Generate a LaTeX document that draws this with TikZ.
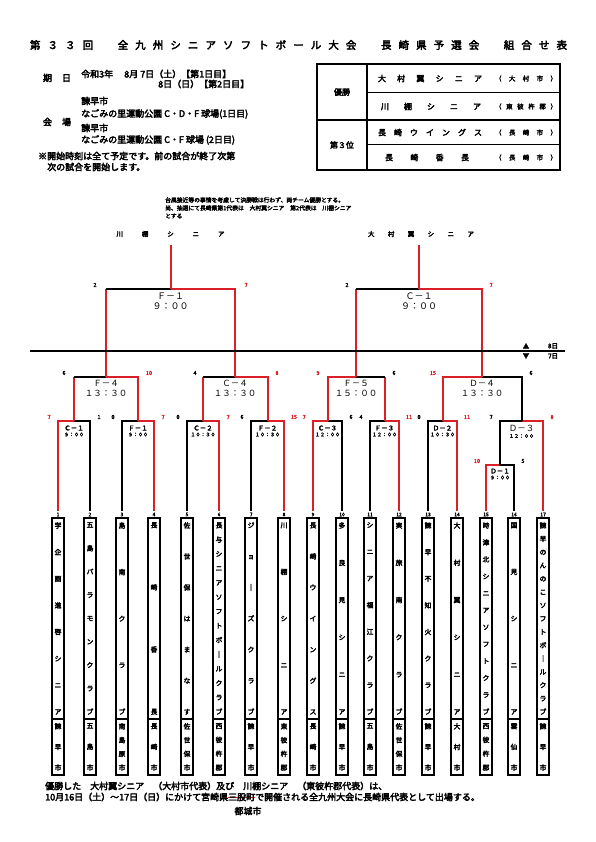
\documentclass[tikz,border=0pt]{standalone}
\usepackage{fontspec}
\setmainfont{Noto Sans CJK JP}[BoldFont={Noto Sans CJK JP}, BoldFeatures={FakeBold=3.5}]
\usetikzlibrary{calc}
\definecolor{winred}{RGB}{218,32,38}

% Zeichen gleichmaessig verteilen (waagrecht / senkrecht)
\makeatletter
\newcommand\spreadh[2]{\makebox[#1][s]{\spr@a#2\relax}}
\def\spr@a#1{#1\spr@b}
\def\spr@b#1{\ifx#1\relax\else\hfil#1\expandafter\spr@b\fi}
\newcommand\spreadv[2]{\vbox to #1{\spr@c#2\relax}}
\def\spr@c#1{\hbox to 0pt{\hss#1\hss}\spr@d}
\def\spr@d#1{\ifx#1\relax\else\vfil\hbox to 0pt{\hss#1\hss}\expandafter\spr@d\fi}
\makeatother

\newcommand\redstrike[1]{\sbox0{#1}\rlap{\color{winred}\rule[0.3em]{\wd0}{0.8pt}}{\color{winred}\usebox0}}

\tikzset{
  win/.style={draw=winred, line width=2pt},
  lose/.style={draw=black, line width=2pt},
  teambox/.style={draw=black, line width=1.4pt},
  tbl/.style={draw=black, line width=1.6pt},
  tblthin/.style={draw=black, line width=1pt},
  title/.style={font=\bfseries\fontsize{10.5}{12}\selectfont, inner sep=0pt},
  info/.style={font=\bfseries\fontsize{9}{10}\selectfont, inner sep=0pt},
  note/.style={font=\bfseries\fontsize{5.8}{7}\selectfont, inner sep=0pt, anchor=west},
  tblname/.style={font=\bfseries\fontsize{8}{9}\selectfont, inner sep=0pt},
  tblcity/.style={font=\bfseries\fontsize{6.5}{8}\selectfont, inner sep=0pt},
  toplbl/.style={font=\bfseries\fontsize{6.5}{8}\selectfont, inner sep=0pt},
  teamnum/.style={font=\bfseries\fontsize{5}{5}\selectfont, inner sep=0pt},
  teamtxt/.style={font=\bfseries\fontsize{6.8}{7.5}\selectfont, inner sep=0pt},
  score/.style={font=\bfseries\fontsize{5.5}{6}\selectfont, inner sep=0pt},
  wscore/.style={score, text=winred},
  lscore/.style={score, text=black},
  lblS/.style={font=\bfseries\fontsize{6.5}{7}\selectfont, inner sep=0pt},
  timeS/.style={font=\bfseries\fontsize{5}{6}\selectfont, inner sep=0pt},
  lblM/.style={font=\fontsize{8.5}{9}\selectfont, inner sep=0pt},
  lblL/.style={font=\fontsize{9}{10}\selectfont, inner sep=0pt},
  daylbl/.style={font=\bfseries\fontsize{6.5}{7}\selectfont, inner sep=0pt}
}

% Mannschaft: Nummer, x, Name, Ort
\newcommand\team[4]{%
  \draw[teambox] (#2-6,518) rectangle (#2+6,775);
  \draw[teambox] (#2-6,719) -- (#2+6,719);
  \node[teamnum] (n#1) at (#2,514.5) {#1};
  \node[teamtxt] (name#1) at (#2,618.5) {\spreadv{192pt}{#3}};
  \node[teamtxt] (city#1) at (#2,747) {\spreadv{47pt}{#4}};
  \coordinate (t#1) at (#2,511);
}

\begin{document}
\begin{tikzpicture}[x=1pt,y=-1pt]
\useasboundingbox (0,0) rectangle (595,842);

% Titel
\node[title] (title) at (298.5,45) {\spreadh{537pt}{第３３回　全九州シニアソフトボール大会　長崎県予選会　組合せ表}};

% Datum und Ort
\node[info] (kijitsu) at (57,78) {\spreadh{28pt}{期日}};
\node[info, anchor=west] (date1) at (81,74) {令和3年　 8月  7日（土）【第1日目】};
\node[info, anchor=west] (date2) at (158,84) {8日（日）【第2日目】};
\node[info] (kaijo) at (57,122) {\spreadh{28pt}{会場}};
\node[info, anchor=west] (site1) at (81,101) {諫早市};
\node[info, anchor=west] (site1b) at (81,114) {なごみの里運動公園 C・D・F 球場(1日目)};
\node[info, anchor=west] (site2) at (81,128) {諫早市};
\node[info, anchor=west] (site2b) at (81,140) {なごみの里運動公園 C・F 球場 (2日目)};
\node[info, anchor=west] (remark1) at (38,156) {※開始時刻は全て予定です。前の試合が終了次第};
\node[info, anchor=west] (remark2) at (47,167) {次の試合を開始します。};

% Ergebnistabelle
\draw[tbl] (317,64) rectangle (560,170);
\draw[tbl] (367,64) -- (367,170);
\draw[tbl] (317,120) -- (560,120);
\draw[tblthin] (367,93) -- (560,93);
\draw[tblthin] (367,145) -- (560,145);
\node[tblname] (yusho) at (342,92) {優勝};
\node[tblname] (third) at (342,145) {第３位};
\node[tblname] (champ1) at (430,78.5) {\spreadh{104pt}{大村翼シニア}};
\node[tblcity] (champ1c) at (526,78.5) {\spreadh{62pt}{（大村市）}};
\node[tblname] (champ2) at (431,106.5) {\spreadh{100pt}{川棚シニア}};
\node[tblcity] (champ2c) at (526,106.5) {\spreadh{62pt}{（東彼杵郡）}};
\node[tblname] (third1) at (430,132.5) {\spreadh{104pt}{長崎ウイングス}};
\node[tblcity] (third1c) at (526,132.5) {\spreadh{62pt}{（長崎市）}};
\node[tblname] (third2) at (427,157.5) {\spreadh{84pt}{長崎香長}};
\node[tblcity] (third2c) at (526,157.5) {\spreadh{62pt}{（長崎市）}};

% Hinweis
\node[note] (note1) at (165,200) {台風接近等の事情を考慮して決勝戦は行わず、両チーム優勝とする。};
\node[note] (note2) at (165,208) {尚、抽選にて長崎県第1代表は　大村翼シニア　第2代表は　川棚シニア};
\node[note] (note3) at (165,216) {とする};

% Sieger oben
\node[toplbl] (topnameL) at (170.5,234) {\spreadh{108pt}{川棚シニア}};
\node[toplbl] (topnameR) at (421,234) {\spreadh{106pt}{大村翼シニア}};

% Mannschaften
\team{1}{58}{学企画進啓シニア}{諫早市}
\team{2}{90}{五島パラモンクラブ}{五島市}
\team{3}{122}{島南クラブ}{南島原市}
\team{4}{154}{長崎香長}{長崎市}
\team{5}{187}{佐世保はまなす}{佐世保市}
\team{6}{219}{長与シニアソフトボ｜ルクラブ}{西彼杵郡}
\team{7}{251}{ジョ｜ズクラブ}{諫早市}
\team{8}{284}{川棚シニア}{東彼杵郡}
\team{9}{313}{長崎ウイングス}{長崎市}
\team{10}{342}{多良見シニア}{諫早市}
\team{11}{370}{シニア福江クラブ}{五島市}
\team{12}{399}{実旅南クラブ}{佐世保市}
\team{13}{428}{諫早不知火クラブ}{諫早市}
\team{14}{457}{大村翼シニア}{大村市}
\team{15}{486}{時津北シニアソフトクラブ}{西彼杵郡}
\team{16}{514}{国見シニア}{雲仙市}
\team{17}{543}{諫早のんのこソフトボ｜ルクラブ}{諫早市}

% Spielpunkte
\coordinate (c1a) at (74,421);
\coordinate (f1a) at (138,421);
\coordinate (c2) at (203,421);
\coordinate (f2) at (267.5,421);
\coordinate (c3) at (327.5,421);
\coordinate (f3) at (384.5,421);
\coordinate (d2) at (442.5,421);
\coordinate (d1) at (500,465);
\coordinate (d3) at (521.5,421);
\coordinate (f4) at (106,377);
\coordinate (c4) at (235,377);
\coordinate (f5) at (356,377);
\coordinate (d4) at (482,377);
\coordinate (f1b) at (170.5,289);
\coordinate (c1b) at (419,289);
\coordinate (topL) at (170.5,245);
\coordinate (topR) at (419,245);

% erste Runde (7日)
\draw[lose] (t2) |- (c1a);  \draw[win] (t1) |- (c1a);
\draw[lose] (t3) |- (f1a);  \draw[win] (t4) |- (f1a);
\draw[lose] (t5) |- (c2);   \draw[win] (t6) |- (c2);
\draw[lose] (t7) |- (f2);   \draw[win] (t8) |- (f2);
\draw[lose] (t10) |- (c3);  \draw[win] (t9) |- (c3);
\draw[lose] (t11) |- (f3);  \draw[win] (t12) |- (f3);
\draw[lose] (t13) |- (d2);  \draw[win] (t14) |- (d2);
\draw[lose] (t16) |- (d1);  \draw[win] (t15) |- (d1);
\draw[lose] (d1) |- (d3);   \draw[win] (t17) |- (d3);

% zweite Runde (7日)
\draw[win] (c1a) -- (c1a |- f4);  \draw[lose] (c1a |- f4) -- (f4);  \draw[win] (f1a) |- (f4);
\draw[win] (c2) -- (c2 |- c4);    \draw[lose] (c2 |- c4) -- (c4);    \draw[win] (f2) |- (c4);
\draw[win] (f3) -- (f3 |- f5);    \draw[lose] (f3 |- f5) -- (f5);    \draw[win] (c3) |- (f5);
\draw[lose] (d3) |- (d4);         \draw[win] (d2) |- (d4);

% Halbfinale (8日)
\draw[win] (f4) -- (f4 |- f1b);   \draw[lose] (f4 |- f1b) -- (f1b);  \draw[win] (c4) |- (f1b);
\draw[win] (f5) -- (f5 |- c1b);   \draw[lose] (f5 |- c1b) -- (c1b);  \draw[win] (d4) |- (c1b);
\draw[win] (f1b) -- (topL);
\draw[win] (c1b) -- (topR);

% Tagesgrenze
\draw[line width=1.4pt] (30,351) -- (565,351);
\node[daylbl] (up) at (526,346) {▲};
\node[daylbl] (down) at (526,356) {▼};
\node[daylbl] (day8) at (553,346) {8日};
\node[daylbl] (day7) at (553,356) {7日};

% Spielbezeichnungen
\node[lblS] (lc1a) at (74,428) {Ｃ－１};   \node[timeS] (tc1a) at (74,434.5) {９：００};
\node[lblS] (lf1a) at (138,428) {Ｆ－１};  \node[timeS] (tf1a) at (138,434.5) {９：００};
\node[lblS] (lc2) at (203,428) {Ｃ－２};   \node[timeS] (tc2) at (203,434.5) {１０：３０};
\node[lblS] (lf2) at (267.5,428) {Ｆ－２}; \node[timeS] (tf2) at (267.5,434.5) {１０：３０};
\node[lblS] (lc3) at (327.5,428) {Ｃ－３}; \node[timeS] (tc3) at (327.5,434.5) {１２：００};
\node[lblS] (lf3) at (384.5,428) {Ｆ－３}; \node[timeS] (tf3) at (384.5,434.5) {１２：００};
\node[lblS] (ld2) at (442.5,428) {Ｄ－２}; \node[timeS] (td2) at (442.5,434.5) {１０：３０};
\node[lblS] (ld1) at (500,471) {Ｄ－１};   \node[timeS] (td1) at (500,477.5) {９：００};
\node[lblM] (ld3) at (521.5,428) {Ｄ－３}; \node[timeS] (td3) at (521.5,436) {１２：００};
\node[lblM] (lf4) at (106,383) {Ｆ－４};   \node[lblM] (tf4) at (106,393) {１３：３０};
\node[lblM] (lc4) at (235,383) {Ｃ－４};   \node[lblM] (tc4) at (235,393) {１３：３０};
\node[lblM] (lf5) at (356,383) {Ｆ－５};   \node[lblM] (tf5) at (356,393) {１５：００};
\node[lblM] (ld4) at (482,383) {Ｄ－４};   \node[lblM] (td4) at (482,393) {１３：３０};
\node[lblL] (lf1b) at (170.5,296) {Ｆ－１}; \node[lblL] (tf1b) at (170.5,306) {９：００};
\node[lblL] (lc1b) at (419,296) {Ｃ－１};   \node[lblL] (tc1b) at (419,306) {９：００};

% Punkte
\node[wscore] (s1) at (49,417) {7};    \node[lscore] (s2) at (99,417) {1};
\node[lscore] (s3) at (113,417) {0};   \node[wscore] (s4) at (163,417) {7};
\node[lscore] (s5) at (178,417) {0};   \node[wscore] (s6) at (228,417) {7};
\node[lscore] (s7) at (242,417) {6};   \node[wscore] (s8) at (294,417) {15};
\node[wscore] (s9) at (304,417) {7};   \node[lscore] (s10) at (351,417) {6};
\node[lscore] (s11) at (361,417) {4};  \node[wscore] (s12) at (409,417) {11};
\node[lscore] (s13) at (419,417) {0};  \node[wscore] (s14) at (467,417) {11};
\node[wscore] (s15) at (477,461) {10}; \node[lscore] (s16) at (523,461) {5};
\node[lscore] (sd3l) at (491,417) {7}; \node[wscore] (sd3r) at (552,417) {8};
\node[lscore] (sf4l) at (64,373) {6};  \node[wscore] (sf4r) at (149,373) {10};
\node[lscore] (sc4l) at (195,373) {4}; \node[wscore] (sc4r) at (277,373) {8};
\node[wscore] (sf5l) at (318,373) {9}; \node[lscore] (sf5r) at (394,373) {6};
\node[wscore] (sd4l) at (433,373) {15};\node[lscore] (sd4r) at (531,373) {6};
\node[lscore] (sf1l) at (95,285) {2};  \node[wscore] (sf1r) at (246,285) {7};
\node[lscore] (sc1l) at (347,285) {2}; \node[wscore] (sc1r) at (491,285) {7};

% Schlusstext
\node[info, anchor=west] (foot1) at (45,786) {優勝した　大村翼シニア　（大村市代表）及び　川棚シニア　（東彼杵郡代表）は、};
\node[info, anchor=west] (foot2) at (45,797) {10月16日（土）～17日（日）にかけて宮崎県\redstrike{三股町}で開催される全九州大会に長崎県代表として出場する。};
\node[info] (foot3) at (248,811) {都城市};
\end{tikzpicture}
\end{document}
